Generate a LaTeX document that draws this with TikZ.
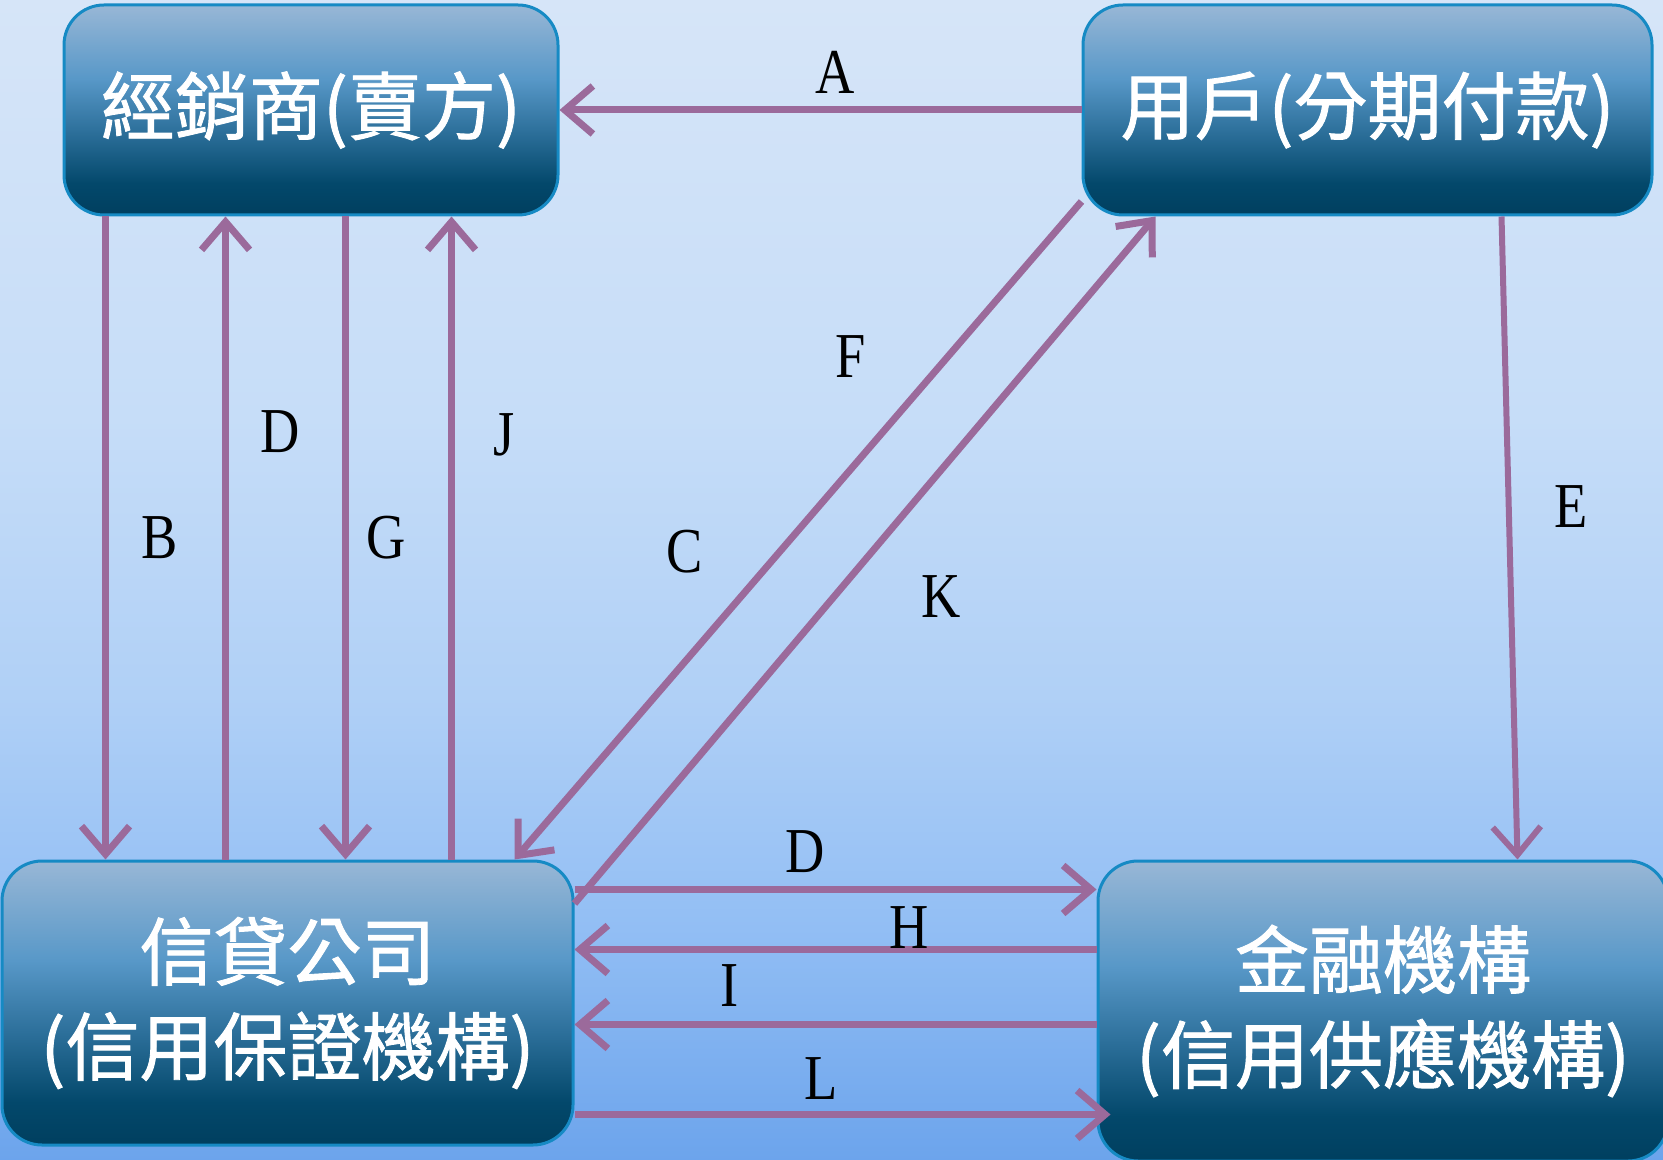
\documentclass[tikz,border=0pt]{standalone}
\usepackage{fontspec}
\setmainfont{Liberation Serif}
\newfontfamily\cjkfont{Noto Sans CJK TC}[FakeBold=1.2]
\newfontfamily\labfont{Liberation Serif}[FakeStretch=0.85]
\usetikzlibrary{arrows.meta}
\definecolor{arrowc}{RGB}{155,106,155}
\definecolor{boxborder}{RGB}{22,138,196}
\definecolor{boxlt}{RGB}{152,183,214}
\definecolor{boxmid}{RGB}{88,152,200}
\definecolor{boxmd}{RGB}{45,112,155}
\definecolor{boxdk}{RGB}{3,72,107}
\definecolor{boxbt}{RGB}{0,63,95}
\definecolor{bgtop}{RGB}{214,229,248}
\definecolor{bgup}{RGB}{198,221,248}
\definecolor{bgmid}{RGB}{176,208,246}
\definecolor{bglow}{RGB}{146,190,244}
\definecolor{bgbot}{RGB}{108,164,236}
\pgfdeclareverticalshading{boxshade}{100bp}{color(0bp)=(boxbt); color(25bp)=(boxbt); color(32.5bp)=(boxdk); color(45bp)=(boxmd); color(57.5bp)=(boxmid); color(75bp)=(boxlt); color(100bp)=(boxlt)}
\pgfdeclareverticalshading{bgshade}{100bp}{color(0bp)=(bgbot); color(25bp)=(bgbot); color(35bp)=(bglow); color(45bp)=(bgmid); color(57bp)=(bgup); color(75bp)=(bgtop); color(100bp)=(bgtop)}
\tikzset{
  box/.style={rounded corners=20pt, draw=boxborder, line width=1.5pt, shading=boxshade,
    text=white, font=\cjkfont\fontsize{37}{47.5}\selectfont, align=center, inner sep=0pt},
  arr/.style={draw=arrowc, line width=3.5pt, -{Straight Barb[length=14pt,width=24pt]}},
  lab/.style={font=\labfont\fontsize{32}{32}\selectfont, inner sep=0pt, text=black}
}
\begin{document}
\begin{tikzpicture}[x=0.5pt,y=-0.5pt]
\useasboundingbox (0,0) rectangle (1663,1160);
\clip (0,0) rectangle (1663,1160);
\shade[shading=bgshade] (0,0) rectangle (1663,1160);
% boxes
\node[box, minimum width=247pt, minimum height=105pt] (TL) at (311,110) {經銷商(賣方)};
\node[box, minimum width=284.5pt, minimum height=105pt] (TR) at (1367.5,110) {用戶(分期付款)};
\node[box, minimum width=285.5pt, minimum height=142pt] (BL) at (287.5,1003) {信貸公司\\(信用保證機構)};
\node[box, minimum width=285pt, minimum height=150pt] (BR) at (1383,1011) {金融機構\\(信用供應機構)};
% connectors
\draw[arr] (TR.west) -- (TL.east);
\draw[arr] ([xshift=21.5pt]TL.south west) -- ([xshift=52.5pt]BL.north west);
\draw[arr] ([xshift=112.5pt]BL.north west) -- ([xshift=81.5pt]TL.south west);
\draw[arr] ([xshift=141.5pt]TL.south west) -- ([xshift=172.5pt]BL.north west);
\draw[arr] ([xshift=225.5pt]BL.north west) -- ([xshift=194.5pt]TL.south west);
\draw[arr] ([yshift=7.5pt]TR.south west) -- ([xshift=-30pt]BL.north east);
\draw[arr] ([yshift=-22pt]BL.north east) -- ([xshift=37pt]TR.south west);
\draw[arr, line width=3pt] ([xshift=210pt]TR.south west) -- ([xshift=210.5pt]BR.north west);
\draw[arr] ([yshift=-15pt]BL.north east) -- ([yshift=-15pt]BR.north west);
\draw[arr] ([yshift=-45pt]BR.north west) -- ([yshift=-45pt]BL.north east);
\draw[arr] ([yshift=-82.5pt]BR.north west) -- ([yshift=-82.5pt]BL.north east);
\draw[arr] ([yshift=-127.5pt]BL.north east) -- ([xshift=7pt,yshift=-127.5pt]BR.north west);
% labels
\node[lab] (lA) at (835,72) {A};
\node[lab] (lB) at (160,538) {B};
\node[lab] (lD1) at (280,432) {D};
\node[lab] (lG) at (386,538) {G};
\node[lab] (lJ) at (504,435) {J};
\node[lab] (lF) at (851,357) {F};
\node[lab] (lC) at (685,552) {C};
\node[lab] (lK) at (941,597) {K};
\node[lab] (lE) at (1571,507) {E};
\node[lab] (lD2) at (805,852) {D};
\node[lab] (lH) at (909,928) {H};
\node[lab] (lI) at (730,986) {I};
\node[lab] (lL) at (821,1079) {L};
\end{tikzpicture}
\end{document}
